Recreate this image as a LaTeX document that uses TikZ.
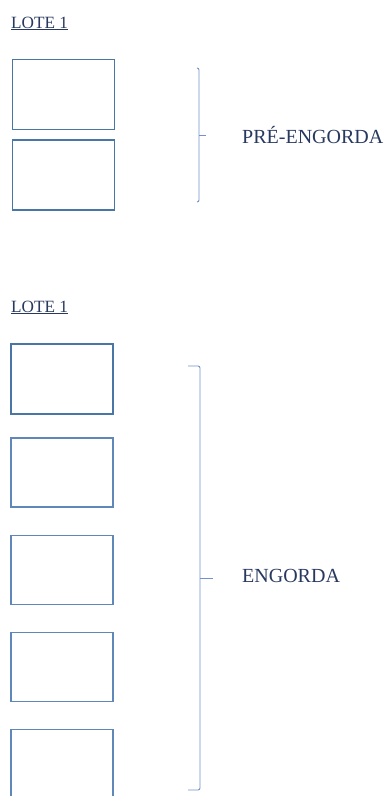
\documentclass[tikz,border=0pt]{standalone}
\usepackage{fontspec}
\setmainfont{Liberation Serif}
\usetikzlibrary{positioning}
\definecolor{boxblue}{HTML}{4A76A6}
\definecolor{thinblue}{HTML}{5F88B8}
\definecolor{bracecol}{HTML}{7391CC}
\definecolor{navy}{HTML}{27395E}

\begin{document}
\begin{tikzpicture}[x=1pt, y=-1pt, font=\fontsize{17.2}{20}\selectfont, tank/.style={draw=boxblue, line width=1.8pt, minimum width=102pt, minimum height=70pt, inner sep=0pt}, tankthin/.style={tank, draw=thinblue, line width=1.1pt, minimum height=69pt}, lote/.style={text=navy, inner sep=0pt, anchor=base west}, phase/.style={text=navy, font=\fontsize{20}{24}\selectfont, inner sep=0pt, anchor=base west}, brc/.style={draw=bracecol, line width=0.9pt, rounded corners=2pt}]
\useasboundingbox (0,0) rectangle (386,796);
% pre-engorda
\node[lote] (lote1) at (11,28) {\underline{LOTE 1}};
\node[tank] (t1) at (63.5,94.5) {};
\node[tank, below=9pt of t1] (t2) {};
\coordinate (b1top) at (199,68); \coordinate (b1bot) at (199,202); \coordinate (b1mid) at (199,135);
\draw[brc] ([xshift=-2pt]b1top) -- (b1top) -- (b1bot) -- ([xshift=-2pt]b1bot);
\draw[brc] (b1mid) -- ++(7,0);
\node[phase] (pre) at (242,143) {PRÉ-ENGORDA};
% engorda
\node[lote] (lote2) at (11,312) {\underline{LOTE 1}};
\node[tank] (t3) at (62,379) {};
\node[tankthin, below=22.5pt of t3] (t4) {};
\node[tankthin, below=27pt of t4] (t5) {};
\node[tankthin, below=27pt of t5] (t6) {};
\node[tankthin, below=27pt of t6] (t7) {};
\coordinate (b2top) at (200,366); \coordinate (b2bot) at (200,790); \coordinate (b2mid) at (200,578);
\draw[brc] ([xshift=-12pt]b2top) -- (b2top) -- (b2bot) -- ([xshift=-12pt]b2bot);
\draw[brc] (b2mid) -- ++(13,0);
\node[phase] (eng) at (242,582) {ENGORDA};
\end{tikzpicture}
\end{document}
